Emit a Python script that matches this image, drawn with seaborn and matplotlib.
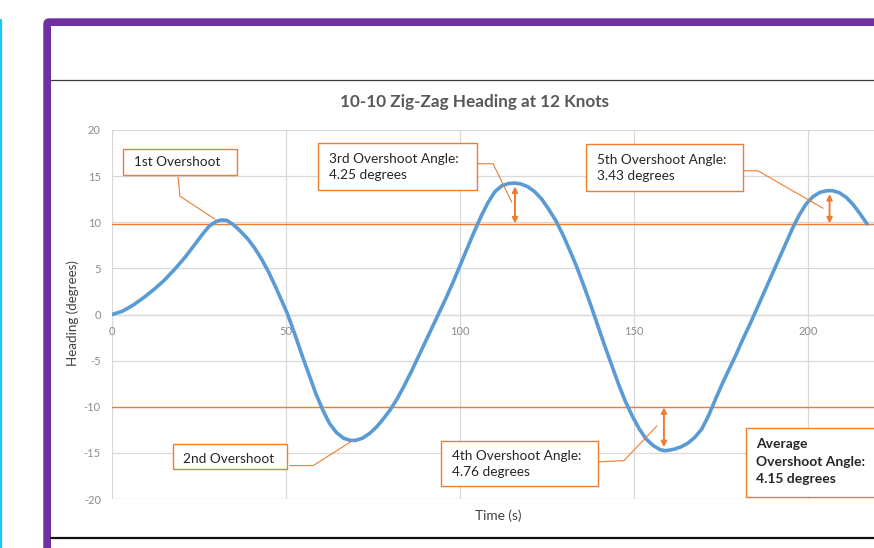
import matplotlib
matplotlib.use("Agg")
import matplotlib.pyplot as plt
import matplotlib.transforms as mtransforms
import seaborn as sns
import pandas as pd
from matplotlib.patches import Rectangle, FancyBboxPatch
from matplotlib.lines import Line2D

# ---------------- data ----------------
time_s = [0, 3, 6, 9, 12, 15, 18, 21, 24, 26,
          28, 30, 31.5, 33, 35, 37, 39, 41, 43, 45,
          47, 49, 50.5, 52.5, 54.5, 56.5, 58.5, 60.5, 62.5, 64.5,
          66.5, 68.5, 70, 72, 74, 76, 78, 80, 82, 84,
          86, 88, 90, 92, 94, 96, 98, 100, 102, 104,
          106, 108, 110, 112, 114, 115.8, 117.5, 119.5, 121.5, 123.5,
          125.5, 127.5, 129.5, 131.5, 133.5, 135.5, 137.5, 139.5, 141.5, 143.5,
          145.5, 147.5, 149.5, 151.5, 153.5, 155.5, 157.5, 158.8, 160, 161.5,
          163.5, 165.5, 167.5, 169.5, 171.5, 173.5, 175.5, 177.5, 179.5, 181.5,
          183.5, 185.5, 187.5, 189.5, 191.5, 193.5, 195.5, 197.5, 199.5, 201.5,
          203.5, 205.5, 207, 209, 211, 213, 215, 217]
heading_deg = [0, 0.35, 1.0, 1.8, 2.7, 3.7, 4.9, 6.2, 7.7, 8.7,
               9.6, 10.1, 10.25, 10.2, 9.7, 9.0, 8.2, 7.2, 6.0, 4.6,
               3.0, 1.3, 0.0, -2.1, -4.3, -6.4, -8.5, -10.3, -11.8, -12.8,
               -13.4, -13.65, -13.65, -13.4, -12.9, -12.2, -11.3, -10.3, -9.1, -7.7,
               -6.2, -4.6, -3.0, -1.4, 0.2, 1.8, 3.5, 5.3, 7.1, 8.9,
               10.6, 12.1, 13.3, 13.95, 14.2, 14.25, 14.15, 13.85, 13.3, 12.5,
               11.4, 10.2, 8.7, 7.0, 5.2, 3.2, 1.1, -1.1, -3.3, -5.4,
               -7.5, -9.4, -11.0, -12.4, -13.5, -14.2, -14.65, -14.76, -14.72, -14.6,
               -14.35, -13.95, -13.3, -12.4, -10.9, -9.1, -7.4, -5.8, -4.2, -2.5,
               -0.9, 0.8, 2.5, 4.2, 5.9, 7.6, 9.3, 10.8, 12.0, 12.8,
               13.25, 13.42, 13.43, 13.2, 12.7, 11.9, 10.9, 9.8]
x_ticks = [0, 50, 100, 150, 200]
y_ticks = [-20, -15, -10, -5, 0, 5, 10, 15, 20]
limit_lines = [9.8, -10]
peak_times = [115.8, 158.6, 206.2]
peak_values = [14.25, -14.76, 13.43]
peak_limits = [9.8, -10, 9.8]

title = "10-10 Zig-Zag Heading at 12 Knots"
x_label = "Time (s)"
y_label = "Heading (degrees)"
box_texts = ["1st Overshoot",
             "2nd Overshoot",
             "3rd Overshoot Angle:\n4.25 degrees",
             "4th Overshoot Angle:\n4.76 degrees",
             "5th Overshoot Angle:\n3.43 degrees",
             "Average\nOvershoot Angle:\n4.15 degrees"]

# ---------------- layout (data coords of annotation boxes) ----------------
# (t0, t1, v_top, v_bottom, text_x, text_y)
box_layout = [
    (3.16, 35.9, 17.93, 15.11, 6.3, 16.52),
    (17.5, 50.3, -14.0, -16.7, 20.5, -15.65),
    (59.2, 104.9, 18.6, 13.5, 62.4, 16.0),
    (94.5, 139.7, -13.7, -18.6, 97.6, -16.2),
    (136.2, 181.3, 18.5, 13.4, 139.3, 15.85),
    (182.2, 225.0, -12.3, -19.8, 185.2, -15.95),
]
leaders = [
    ([18.97, 19.54, 29.6], [14.9, 12.83, 10.33]),
    ([51.1, 57.8, 69.0], [-16.38, -16.38, -13.7]),
    ([104.9, 109.5, 114.9], [16.34, 16.34, 12.17]),
    ([139.7, 147.1, 156.6], [-15.98, -15.84, -12.07]),
    ([181.3, 185.6, 204.3], [15.58, 15.58, 11.52]),
]

W, H = 874, 548
ORANGE = "#ED7D31"
BLUE = "#5B9BD5"
GRID = "#D9D9D9"

sns.set_theme(style="whitegrid")
plt.rcParams["font.family"] = ["Lato", "DejaVu Sans"]
plt.rcParams["axes.unicode_minus"] = False

fig = plt.figure(figsize=(W / 100, H / 100), dpi=100)
fig.patch.set_facecolor("white")

# ---------------- page frame decorations ----------------
ident = mtransforms.IdentityTransform()
def dp(px, py):
    return px, H - py

fig.add_artist(FancyBboxPatch(dp(43.3, 600), 900, 600 - 18.3,
                              boxstyle="round,pad=0,rounding_size=6",
                              transform=ident, facecolor="#7030A0",
                              edgecolor="none", zorder=-3))
fig.add_artist(Rectangle(dp(51, 600), 900, 600 - 26, transform=ident,
                         facecolor="white", edgecolor="none", zorder=-2))
fig.add_artist(Line2D([1, 1], [H - 20, 0], transform=ident, color="#1CC6F4",
                      lw=1.6, zorder=-1))
fig.add_artist(Line2D([51, 900], [H - 79.5, H - 79.5], transform=ident,
                      color="#3A3A3A", lw=0.9, zorder=-1))
fig.add_artist(Line2D([51, 900], [H - 537.8, H - 537.8], transform=ident,
                      color="#111111", lw=1.6, zorder=-1))

# ---------------- axes ----------------
ax_left, ax_bottom = 112 / W, (H - 499) / H
ax = fig.add_axes([ax_left, ax_bottom, (W - 112) / W, (499 - 130) / H])
ax.set_facecolor("white")

df = pd.DataFrame({"Time (s)": time_s, "Heading (degrees)": heading_deg})
sns.lineplot(data=df, x="Time (s)", y="Heading (degrees)", ax=ax,
             color=BLUE, linewidth=2.6, zorder=4)
ax.lines[-1].set_solid_joinstyle("round")
ax.lines[-1].set_solid_capstyle("round")

for v in limit_lines:
    ax.axhline(v, color=ORANGE, lw=1.0, zorder=3)

ax.set_xlim(0, (W - 112) / 3.48)
ax.set_ylim(-20, 20)
ax.set_xticks(x_ticks)
ax.set_yticks(y_ticks)
ax.set_xticklabels([str(t) for t in x_ticks])
ax.set_yticklabels([str(t) for t in y_ticks])
ax.grid(True, color=GRID, lw=0.9)
ax.set_axisbelow(True)
for s in ["left", "right", "top"]:
    ax.spines[s].set_visible(False)
ax.spines["bottom"].set_position(("data", 0))
ax.spines["bottom"].set_color(GRID)
ax.spines["bottom"].set_linewidth(0.9)
ax.tick_params(axis="both", length=0, labelsize=8, labelcolor="#8C8C8C")
ax.tick_params(axis="y", pad=8)
ax.tick_params(axis="x", pad=8)

ax.set_title(title, x=(474 - 112) / 762, y=(499 - 102) / 369, pad=0,
             va="center", fontsize=12.3, fontweight="bold", color="#595959")
ax.set_xlabel(x_label, fontsize=9.8, color="#404040")
ax.xaxis.set_label_coords((498 - 112) / 762, -(516 - 499) / 369)
ax.xaxis.label.set_va("center")
ax.set_ylabel(y_label, fontsize=9.6, color="#404040")
ax.yaxis.set_label_coords((73 - 112) / 762, (499 - 313) / 369)
ax.yaxis.label.set_va("center")

# ---------------- annotations ----------------
for (t0, t1, vt, vb, tx, ty), txt in zip(box_layout, box_texts):
    ax.add_patch(Rectangle((t0, vb), t1 - t0, vt - vb, facecolor="white",
                           edgecolor=ORANGE, lw=1.0, zorder=6, clip_on=False))
    bold = txt.startswith("Average")
    ax.text(tx, ty, txt, ha="left", va="center",
            fontsize=10.0 if bold else 9.8,
            fontweight="bold" if bold else "normal", color="#262626",
            linespacing=1.57 if bold else 1.43, zorder=7, clip_on=False)

for xs, ys in leaders:
    ax.plot(xs, ys, color=ORANGE, lw=0.8, zorder=5)

for t, pv, lim in zip(peak_times, peak_values, peak_limits):
    ax.annotate("", xy=(t, lim), xytext=(t, pv),
                arrowprops=dict(arrowstyle="<|-|>", color=ORANGE, lw=1.4,
                                mutation_scale=8, shrinkA=2.5, shrinkB=0.5),
                zorder=6)

fig.savefig("out.png", dpi=100, facecolor="white")
